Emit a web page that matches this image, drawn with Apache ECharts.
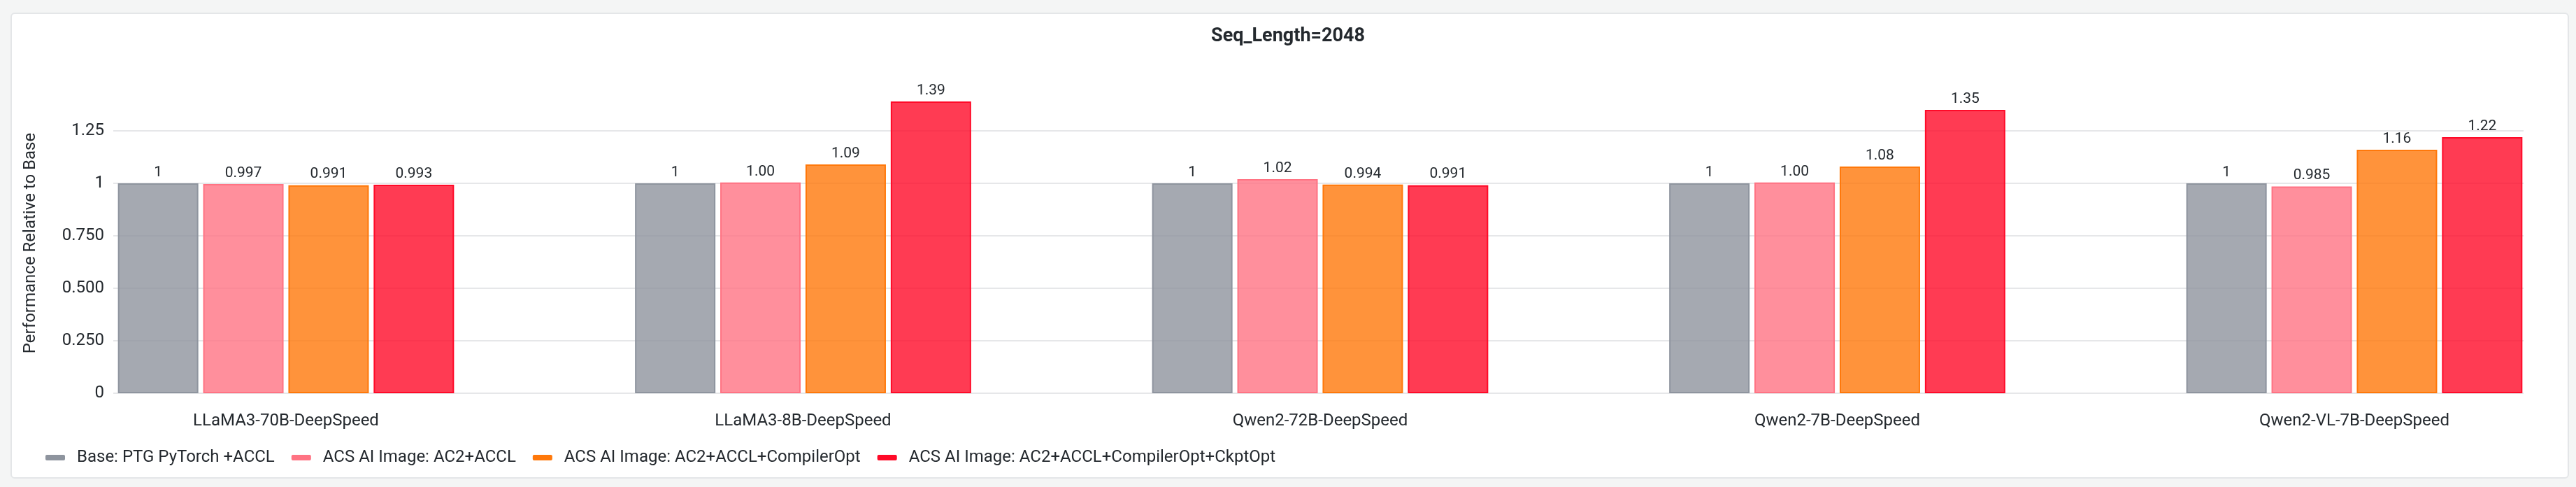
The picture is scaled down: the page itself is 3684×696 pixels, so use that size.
<!DOCTYPE html>
<html>
<head>
<meta charset="utf-8">
<script src="https://cdn.jsdelivr.net/npm/echarts@6/dist/echarts.min.js"></script>
<style>
  html, body { margin: 0; padding: 0; background: #f4f5f5; width: 3684px; height: 696px; overflow: hidden; }
  #card { position: absolute; left: 15px; top: 18px; width: 3655px; height: 662px; background: #ffffff; border: 2px solid #e4e6e8; border-radius: 6px; }
  #chart { position: absolute; left: 0; top: 0; width: 3684px; height: 696px; }
</style>
</head>
<body>
<div id="card"></div>
<div id="chart"></div>
<script>
const categories = ['LLaMA3-70B-DeepSpeed', 'LLaMA3-8B-DeepSpeed', 'Qwen2-72B-DeepSpeed', 'Qwen2-7B-DeepSpeed', 'Qwen2-VL-7B-DeepSpeed'];
const seriesNames = ['Base: PTG PyTorch +ACCL', 'ACS AI Image: AC2+ACCL', 'ACS AI Image: AC2+ACCL+CompilerOpt', 'ACS AI Image: AC2+ACCL+CompilerOpt+CkptOpt'];
const baseValues = [1, 1, 1, 1, 1];
const ac2AcclValues = [0.997, 1.004, 1.02, 1.004, 0.985];
const compilerOptValues = [0.991, 1.09, 0.994, 1.08, 1.16];
const ckptOptValues = [0.993, 1.39, 0.991, 1.35, 1.22];
const tickValues = [0, 0.25, 0.5, 0.75, 1, 1.25];
const tickLabels = ['0', '0.250', '0.500', '0.750', '1', '1.25'];
const colors = ['#8e949e', '#ff7383', '#ff780a', '#ff0a28'];

const seriesValues = [baseValues, ac2AcclValues, compilerOptValues, ckptOptValues];
const FONT = 'Roboto';
const TXT = '#24292e';

function rgba(hex, a) {
  const n = parseInt(hex.slice(1), 16);
  return 'rgba(' + ((n >> 16) & 255) + ',' + ((n >> 8) & 255) + ',' + (n & 255) + ',' + a + ')';
}
function fmtValue(v) {
  return v === 1 ? '1' : v.toPrecision(3);
}

const chart = echarts.init(document.getElementById('chart'), null, { renderer: 'canvas' });
const option = {
  animation: false,
  backgroundColor: 'transparent',
  textStyle: { fontFamily: FONT },
  title: {
    text: 'Seq_Length=2048',
    left: 'center',
    top: 34,
    textStyle: { fontFamily: FONT, fontSize: 27, fontWeight: 'bold', color: TXT }
  },
  legend: {
    left: 60,
    top: 637,
    itemWidth: 28,
    itemHeight: 8,
    itemGap: 24,
    icon: 'roundRect',
    textStyle: { fontFamily: FONT, fontSize: 24, color: TXT, padding: [0, 0, 0, 12] },
    data: seriesNames.map((n, i) => ({ name: n, itemStyle: { color: colors[i], borderWidth: 0 } }))
  },
  grid: [
    { left: 162, right: 75, top: 133, bottom: 134, outerBoundsMode: 'none' },
    { left: 39.25, width: 3697.5, top: 133, bottom: 134, outerBoundsMode: 'none' }
  ],
  xAxis: [
    { gridIndex: 0, type: 'category', data: categories, show: false },
    {
      gridIndex: 1, type: 'category', data: categories,
      axisLine: { show: false }, axisTick: { show: false },
      axisLabel: { margin: 28, fontFamily: FONT, fontSize: 24, color: TXT }
    }
  ],
  yAxis: [
    {
      gridIndex: 0, type: 'value', min: 0, max: 1.43, interval: 0.25,
      name: 'Performance Relative to Base', nameLocation: 'middle', nameGap: 106,
      nameTextStyle: { fontFamily: FONT, fontSize: 24, color: TXT },
      axisLine: { show: false }, axisTick: { show: false },
      axisLabel: {
        margin: 13, fontFamily: FONT, fontSize: 24, color: TXT, showMaxLabel: false,
        formatter: function (v) {
          const i = tickValues.findIndex(t => Math.abs(t - v) < 1e-9);
          return i >= 0 ? tickLabels[i] : '';
        }
      },
      splitLine: { show: true, showMaxLine: false, lineStyle: { color: '#e6e7e9', width: 2 } }
    },
    { gridIndex: 1, type: 'value', min: 0, max: 1.43, interval: 0.25, show: false, splitLine: { show: false } }
  ],
  series: seriesNames.map((name, i) => ({
    name: name,
    type: 'bar',
    xAxisIndex: 1,
    yAxisIndex: 1,
    data: seriesValues[i],
    barWidth: 115,
    barGap: '6%',
    itemStyle: { color: rgba(colors[i], 0.8), borderColor: colors[i], borderWidth: 2 },
    label: {
      show: true, position: 'top', distance: 5,
      fontFamily: FONT, fontSize: 21, color: TXT,
      formatter: p => fmtValue(p.value)
    }
  }))
};
chart.setOption(option);
</script>
</body>
</html>
